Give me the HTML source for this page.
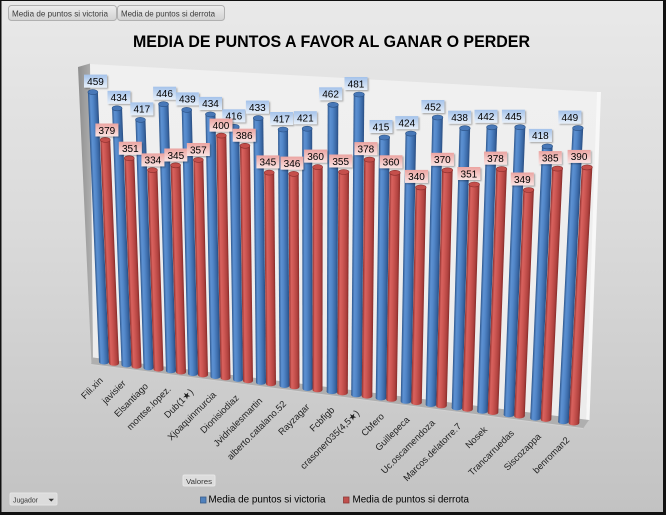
<!DOCTYPE html>
<html><head><meta charset="utf-8"><style>
html,body{margin:0;padding:0;background:#fff}
svg{display:block}
.cB{fill:#4878b8;stroke:#2b5286;stroke-width:.6}
.cR{fill:#c54f4b;stroke:#8c2f2d;stroke-width:.6}
.lb{fill:url(#lbB);filter:url(#sh)}
.lr{fill:url(#lbR);filter:url(#sh)}
.v{font-family:"Liberation Sans",sans-serif;font-size:10px;text-anchor:middle;fill:#000}
.c{font-family:"Liberation Sans","DejaVu Sans",sans-serif;font-size:9.3px;text-anchor:end;fill:#222}
.btn{font-family:"Liberation Sans",sans-serif;fill:#3a3a3a}
</style></head><body>
<svg width="666" height="515" viewBox="0 0 666 515" xmlns="http://www.w3.org/2000/svg">
<defs>
<linearGradient id="bg" x1="0" y1="0" x2="0" y2="1">
<stop offset="0" stop-color="#e9e9e9"/><stop offset="0.45" stop-color="#dadada"/><stop offset="1" stop-color="#c2c2c2"/>
</linearGradient>
<linearGradient id="wall" x1="0" y1="0" x2="0" y2="1">
<stop offset="0" stop-color="#f0f0f0"/><stop offset="1" stop-color="#ececec"/>
</linearGradient>
<linearGradient id="lw" x1="0" y1="0" x2="1" y2="0">
<stop offset="0" stop-color="#8e8e8e"/><stop offset="1" stop-color="#b2b2b2"/>
</linearGradient>
<linearGradient id="gB" x1="0" y1="0" x2="1" y2="0">
<stop offset="0" stop-color="#2d568c"/><stop offset="0.22" stop-color="#5d91d2"/><stop offset="0.45" stop-color="#5287c9"/><stop offset="0.8" stop-color="#3a68a5"/><stop offset="1" stop-color="#2a4e82"/>
</linearGradient>
<linearGradient id="gR" x1="0" y1="0" x2="1" y2="0">
<stop offset="0" stop-color="#8e302e"/><stop offset="0.22" stop-color="#d9625e"/><stop offset="0.45" stop-color="#cd5753"/><stop offset="0.8" stop-color="#b0423f"/><stop offset="1" stop-color="#862c2a"/>
</linearGradient>
<linearGradient id="lbB" x1="0" y1="0" x2="0" y2="1">
<stop offset="0" stop-color="#a4c2ea"/><stop offset="1" stop-color="#e8f0fa"/>
</linearGradient>
<linearGradient id="lbR" x1="0" y1="0" x2="0" y2="1">
<stop offset="0" stop-color="#eba4a1"/><stop offset="1" stop-color="#fae4e3"/>
</linearGradient>
<linearGradient id="bt" x1="0" y1="0" x2="0" y2="1">
<stop offset="0" stop-color="#eeeeee"/><stop offset="1" stop-color="#d2d2d2"/>
</linearGradient>
<filter id="sh" x="-20%" y="-20%" width="150%" height="160%">
<feDropShadow dx="1.2" dy="1.2" stdDeviation="0.8" flood-color="#000" flood-opacity="0.3"/>
</filter>
</defs>

<rect x="0" y="0" width="666" height="515" fill="url(#bg)"/>

<!-- top buttons -->
<rect x="8.5" y="5.5" width="108" height="15" rx="3" fill="url(#bt)" stroke="#b0b0b0"/>
<text class="btn" x="12" y="16.5" font-size="8.1" textLength="96" lengthAdjust="spacingAndGlyphs">Media de puntos si victoria</text>
<rect x="117.5" y="5.5" width="107" height="15" rx="3" fill="url(#bt)" stroke="#b0b0b0"/>
<text class="btn" x="121" y="16.5" font-size="8.1" textLength="94" lengthAdjust="spacingAndGlyphs">Media de puntos si derrota</text>

<!-- title -->
<text x="133" y="47" font-family="Liberation Sans, sans-serif" font-weight="bold" font-size="16.5" fill="#000" textLength="397" lengthAdjust="spacingAndGlyphs">MEDIA DE PUNTOS A FAVOR AL GANAR O PERDER</text>

<!-- walls & floor -->
<polygon points="90,64 598,92 586,420 93,360" fill="url(#wall)"/>
<polygon points="597,92 601,92 589.5,420 586,420" fill="#f8f8f8"/>
<polygon points="78,67 90,63.5 93,359 91.5,364" fill="url(#lw)"/>
<polygon points="93,357.5 589,420 583,428.5 91,364.5" fill="#afafaf"/>
<line x1="91" y1="364.5" x2="583" y2="428.5" stroke="#d2d2d2" stroke-width="1"/>

<!-- bars -->
<g transform="translate(104,362) skewX(2.359)"><rect x="-5" y="-269.9" width="10" height="269.9" fill="url(#gB)"/><ellipse rx="5" ry="2.5" fill="url(#gB)"/><ellipse cy="-269.9" rx="5" ry="2.5" class="cB"/></g>
<g transform="translate(114,363.3) skewX(2.247)"><rect x="-5" y="-223.4" width="10" height="223.4" fill="url(#gR)"/><ellipse rx="5" ry="2.5" fill="url(#gR)"/><ellipse cy="-223.4" rx="5" ry="2.5" class="cR"/></g>

<g transform="translate(126.5,364.9) skewX(2.106)"><rect x="-5" y="-256.6" width="10" height="256.6" fill="url(#gB)"/><ellipse rx="5" ry="2.5" fill="url(#gB)"/><ellipse cy="-256.6" rx="5" ry="2.5" class="cB"/></g>
<g transform="translate(136.5,366.2) skewX(1.994)"><rect x="-5" y="-208" width="10" height="208" fill="url(#gR)"/><ellipse rx="5" ry="2.5" fill="url(#gR)"/><ellipse cy="-208" rx="5" ry="2.5" class="cR"/></g>

<g transform="translate(148.5,367.8) skewX(1.859)"><rect x="-5" y="-247.9" width="10" height="247.9" fill="url(#gB)"/><ellipse rx="5" ry="2.5" fill="url(#gB)"/><ellipse cy="-247.9" rx="5" ry="2.5" class="cB"/></g>
<g transform="translate(158.5,369.1) skewX(1.747)"><rect x="-5" y="-199" width="10" height="199" fill="url(#gR)"/><ellipse rx="5" ry="2.5" fill="url(#gR)"/><ellipse cy="-199" rx="5" ry="2.5" class="cR"/></g>

<g transform="translate(171,370.7) skewX(1.606)"><rect x="-5" y="-266.5" width="10" height="266.5" fill="url(#gB)"/><ellipse rx="5" ry="2.5" fill="url(#gB)"/><ellipse cy="-266.5" rx="5" ry="2.5" class="cB"/></g>
<g transform="translate(181,372) skewX(1.494)"><rect x="-5" y="-206.7" width="10" height="206.7" fill="url(#gR)"/><ellipse rx="5" ry="2.5" fill="url(#gR)"/><ellipse cy="-206.7" rx="5" ry="2.5" class="cR"/></g>

<g transform="translate(193,373.6) skewX(1.359)"><rect x="-5" y="-263.7" width="10" height="263.7" fill="url(#gB)"/><ellipse rx="5" ry="2.5" fill="url(#gB)"/><ellipse cy="-263.7" rx="5" ry="2.5" class="cB"/></g>
<g transform="translate(203,374.9) skewX(1.247)"><rect x="-5" y="-215" width="10" height="215" fill="url(#gR)"/><ellipse rx="5" ry="2.5" fill="url(#gR)"/><ellipse cy="-215" rx="5" ry="2.5" class="cR"/></g>

<g transform="translate(215.5,376.5) skewX(1.107)"><rect x="-5" y="-262.1" width="10" height="262.1" fill="url(#gB)"/><ellipse rx="5" ry="2.5" fill="url(#gB)"/><ellipse cy="-262.1" rx="5" ry="2.5" class="cB"/></g>
<g transform="translate(225.5,377.8) skewX(0.995)"><rect x="-5" y="-242.2" width="10" height="242.2" fill="url(#gR)"/><ellipse rx="5" ry="2.5" fill="url(#gR)"/><ellipse cy="-242.2" rx="5" ry="2.5" class="cR"/></g>

<g transform="translate(238,379.4) skewX(0.854)"><rect x="-5" y="-252.6" width="10" height="252.6" fill="url(#gB)"/><ellipse rx="5" ry="2.5" fill="url(#gB)"/><ellipse cy="-252.6" rx="5" ry="2.5" class="cB"/></g>
<g transform="translate(248,380.7) skewX(0.742)"><rect x="-5" y="-234.9" width="10" height="234.9" fill="url(#gR)"/><ellipse rx="5" ry="2.5" fill="url(#gR)"/><ellipse cy="-234.9" rx="5" ry="2.5" class="cR"/></g>

<g transform="translate(261,382.4) skewX(0.595)"><rect x="-5" y="-264.3" width="10" height="264.3" fill="url(#gB)"/><ellipse rx="5" ry="2.5" fill="url(#gB)"/><ellipse cy="-264.3" rx="5" ry="2.5" class="cB"/></g>
<g transform="translate(271,383.7) skewX(0.483)"><rect x="-5" y="-211.1" width="10" height="211.1" fill="url(#gR)"/><ellipse rx="5" ry="2.5" fill="url(#gR)"/><ellipse cy="-211.1" rx="5" ry="2.5" class="cR"/></g>

<g transform="translate(284.5,385.5) skewX(0.331)"><rect x="-5" y="-256" width="10" height="256" fill="url(#gB)"/><ellipse rx="5" ry="2.5" fill="url(#gB)"/><ellipse cy="-256" rx="5" ry="2.5" class="cB"/></g>
<g transform="translate(294.5,386.8) skewX(0.219)"><rect x="-5" y="-212.9" width="10" height="212.9" fill="url(#gR)"/><ellipse rx="5" ry="2.5" fill="url(#gR)"/><ellipse cy="-212.9" rx="5" ry="2.5" class="cR"/></g>

<g transform="translate(307.5,388.5) skewX(0.073)"><rect x="-5" y="-259.8" width="10" height="259.8" fill="url(#gB)"/><ellipse rx="5" ry="2.5" fill="url(#gB)"/><ellipse cy="-259.8" rx="5" ry="2.5" class="cB"/></g>
<g transform="translate(317.5,389.8) skewX(-0.039)"><rect x="-5" y="-222.7" width="10" height="222.7" fill="url(#gR)"/><ellipse rx="5" ry="2.5" fill="url(#gR)"/><ellipse cy="-222.7" rx="5" ry="2.5" class="cR"/></g>

<g transform="translate(332,391.6) skewX(-0.202)"><rect x="-5.3" y="-286.8" width="10.6" height="286.8" fill="url(#gB)"/><ellipse rx="5.3" ry="2.5" fill="url(#gB)"/><ellipse cy="-286.8" rx="5.3" ry="2.5" class="cB"/></g>
<g transform="translate(342.5,392.9) skewX(-0.314)"><rect x="-5.3" y="-220.9" width="10.6" height="220.9" fill="url(#gR)"/><ellipse rx="5.3" ry="2.5" fill="url(#gR)"/><ellipse cy="-220.9" rx="5.3" ry="2.5" class="cR"/></g>

<g transform="translate(356.5,394.8) skewX(-0.477)"><rect x="-5.3" y="-300.3" width="10.6" height="300.3" fill="url(#gB)"/><ellipse rx="5.3" ry="2.5" fill="url(#gB)"/><ellipse cy="-300.3" rx="5.3" ry="2.5" class="cB"/></g>
<g transform="translate(367,396.1) skewX(-0.589)"><rect x="-5.3" y="-236.5" width="10.6" height="236.5" fill="url(#gR)"/><ellipse rx="5.3" ry="2.5" fill="url(#gR)"/><ellipse cy="-236.5" rx="5.3" ry="2.5" class="cR"/></g>

<g transform="translate(381,398) skewX(-0.753)"><rect x="-5.3" y="-260.5" width="10.6" height="260.5" fill="url(#gB)"/><ellipse rx="5.3" ry="2.5" fill="url(#gB)"/><ellipse cy="-260.5" rx="5.3" ry="2.5" class="cB"/></g>
<g transform="translate(391.5,399.3) skewX(-0.865)"><rect x="-5.3" y="-226.5" width="10.6" height="226.5" fill="url(#gR)"/><ellipse rx="5.3" ry="2.5" fill="url(#gR)"/><ellipse cy="-226.5" rx="5.3" ry="2.5" class="cR"/></g>

<g transform="translate(406,401.3) skewX(-1.034)"><rect x="-5.3" y="-267.7" width="10.6" height="267.7" fill="url(#gB)"/><ellipse rx="5.3" ry="2.5" fill="url(#gB)"/><ellipse cy="-267.7" rx="5.3" ry="2.5" class="cB"/></g>
<g transform="translate(416.5,402.6) skewX(-1.146)"><rect x="-5.3" y="-215.2" width="10.6" height="215.2" fill="url(#gR)"/><ellipse rx="5.3" ry="2.5" fill="url(#gR)"/><ellipse cy="-215.2" rx="5.3" ry="2.5" class="cR"/></g>

<g transform="translate(431,404.5) skewX(-1.314)"><rect x="-5.3" y="-287" width="10.6" height="287" fill="url(#gB)"/><ellipse rx="5.3" ry="2.5" fill="url(#gB)"/><ellipse cy="-287" rx="5.3" ry="2.5" class="cB"/></g>
<g transform="translate(441.5,405.8) skewX(-1.426)"><rect x="-5.3" y="-235.5" width="10.6" height="235.5" fill="url(#gR)"/><ellipse rx="5.3" ry="2.5" fill="url(#gR)"/><ellipse cy="-235.5" rx="5.3" ry="2.5" class="cR"/></g>

<g transform="translate(457,407.9) skewX(-1.606)"><rect x="-5.3" y="-279.7" width="10.6" height="279.7" fill="url(#gB)"/><ellipse rx="5.3" ry="2.5" fill="url(#gB)"/><ellipse cy="-279.7" rx="5.3" ry="2.5" class="cB"/></g>
<g transform="translate(467.5,409.2) skewX(-1.718)"><rect x="-5.3" y="-224.7" width="10.6" height="224.7" fill="url(#gR)"/><ellipse rx="5.3" ry="2.5" fill="url(#gR)"/><ellipse cy="-224.7" rx="5.3" ry="2.5" class="cR"/></g>

<g transform="translate(482.5,411.2) skewX(-1.893)"><rect x="-5.3" y="-283.9" width="10.6" height="283.9" fill="url(#gB)"/><ellipse rx="5.3" ry="2.5" fill="url(#gB)"/><ellipse cy="-283.9" rx="5.3" ry="2.5" class="cB"/></g>
<g transform="translate(493,412.5) skewX(-2.005)"><rect x="-5.3" y="-243.4" width="10.6" height="243.4" fill="url(#gR)"/><ellipse rx="5.3" ry="2.5" fill="url(#gR)"/><ellipse cy="-243.4" rx="5.3" ry="2.5" class="cR"/></g>

<g transform="translate(509,414.7) skewX(-2.191)"><rect x="-5.3" y="-287.5" width="10.6" height="287.5" fill="url(#gB)"/><ellipse rx="5.3" ry="2.5" fill="url(#gB)"/><ellipse cy="-287.5" rx="5.3" ry="2.5" class="cB"/></g>
<g transform="translate(519.5,416) skewX(-2.303)"><rect x="-5.3" y="-226" width="10.6" height="226" fill="url(#gR)"/><ellipse rx="5.3" ry="2.5" fill="url(#gR)"/><ellipse cy="-226" rx="5.3" ry="2.5" class="cR"/></g>

<g transform="translate(535.5,418.1) skewX(-2.488)"><rect x="-5.3" y="-271.7" width="10.6" height="271.7" fill="url(#gB)"/><ellipse rx="5.3" ry="2.5" fill="url(#gB)"/><ellipse cy="-271.7" rx="5.3" ry="2.5" class="cB"/></g>
<g transform="translate(546,419.4) skewX(-2.6)"><rect x="-5.3" y="-250.8" width="10.6" height="250.8" fill="url(#gR)"/><ellipse rx="5.3" ry="2.5" fill="url(#gR)"/><ellipse cy="-250.8" rx="5.3" ry="2.5" class="cR"/></g>

<g transform="translate(563.5,421.7) skewX(-2.803)"><rect x="-5.3" y="-293.6" width="10.6" height="293.6" fill="url(#gB)"/><ellipse rx="5.3" ry="2.5" fill="url(#gB)"/><ellipse cy="-293.6" rx="5.3" ry="2.5" class="cB"/></g>
<g transform="translate(574,423) skewX(-2.915)"><rect x="-5.3" y="-255.6" width="10.6" height="255.6" fill="url(#gR)"/><ellipse rx="5.3" ry="2.5" fill="url(#gR)"/><ellipse cy="-255.6" rx="5.3" ry="2.5" class="cR"/></g>

<!-- blue value labels -->
<rect class="lb" x="84" y="74.6" width="23" height="13"/><text class="v" x="95.5" y="84.9">459</text>
<rect class="lb" x="107.5" y="90.8" width="23" height="13"/><text class="v" x="119" y="101.1">434</text>
<rect class="lb" x="130.3" y="102.4" width="23" height="13"/><text class="v" x="141.8" y="112.7">417</text>
<rect class="lb" x="153.1" y="86.7" width="23" height="13"/><text class="v" x="164.6" y="97">446</text>
<rect class="lb" x="175.8" y="92.4" width="23" height="13"/><text class="v" x="187.3" y="102.7">439</text>
<rect class="lb" x="199" y="96.9" width="23" height="13"/><text class="v" x="210.5" y="107.2">434</text>
<rect class="lb" x="222.3" y="109.3" width="23" height="13"/><text class="v" x="233.8" y="119.6">416</text>
<rect class="lb" x="245.9" y="100.6" width="23" height="13"/><text class="v" x="257.4" y="110.9">433</text>
<rect class="lb" x="270.1" y="112" width="23" height="13"/><text class="v" x="281.6" y="122.3">417</text>
<rect class="lb" x="293.8" y="111.2" width="23" height="13"/><text class="v" x="305.3" y="121.5">421</text>
<rect class="lb" x="319.1" y="87.3" width="23" height="13"/><text class="v" x="330.6" y="97.6">462</text>
<rect class="lb" x="344.5" y="77" width="23" height="13"/><text class="v" x="356" y="87.3">481</text>
<rect class="lb" x="369.5" y="120" width="23" height="13"/><text class="v" x="381" y="130.3">415</text>
<rect class="lb" x="395.3" y="116.1" width="23" height="13"/><text class="v" x="406.8" y="126.4">424</text>
<rect class="lb" x="421.4" y="100" width="23" height="13"/><text class="v" x="432.9" y="110.3">452</text>
<rect class="lb" x="448.1" y="110.7" width="23" height="13"/><text class="v" x="459.6" y="121">438</text>
<rect class="lb" x="474.5" y="109.8" width="23" height="13"/><text class="v" x="486" y="120.1">442</text>
<rect class="lb" x="501.9" y="109.7" width="23" height="13"/><text class="v" x="513.4" y="120">445</text>
<rect class="lb" x="528.9" y="128.9" width="23" height="13"/><text class="v" x="540.4" y="139.2">418</text>
<rect class="lb" x="558.4" y="110.6" width="23" height="13"/><text class="v" x="569.9" y="120.9">449</text>

<!-- red value labels -->
<rect class="lr" x="95.4" y="123.5" width="23" height="13"/><text class="v" x="106.9" y="133.8">379</text>
<rect class="lr" x="118.8" y="141.7" width="23" height="13"/><text class="v" x="130.3" y="152">351</text>
<rect class="lr" x="141.4" y="153.4" width="23" height="13"/><text class="v" x="152.9" y="163.7">334</text>
<rect class="lr" x="164.3" y="148.5" width="23" height="13"/><text class="v" x="175.8" y="158.8">345</text>
<rect class="lr" x="186.8" y="143" width="23" height="13"/><text class="v" x="198.3" y="153.3">357</text>
<rect class="lr" x="209.5" y="118.6" width="23" height="13"/><text class="v" x="221" y="128.9">400</text>
<rect class="lr" x="232.7" y="128.7" width="23" height="13"/><text class="v" x="244.2" y="139">386</text>
<rect class="lr" x="256.4" y="155.4" width="23" height="13"/><text class="v" x="267.9" y="165.7">345</text>
<rect class="lr" x="280.5" y="156.6" width="23" height="13"/><text class="v" x="292" y="166.9">346</text>
<rect class="lr" x="304.1" y="149.6" width="23" height="13"/><text class="v" x="315.6" y="159.9">360</text>
<rect class="lr" x="329.2" y="154.5" width="23" height="13"/><text class="v" x="340.7" y="164.8">355</text>
<rect class="lr" x="354.4" y="142.1" width="23" height="13"/><text class="v" x="365.9" y="152.4">378</text>
<rect class="lr" x="379.5" y="155.3" width="23" height="13"/><text class="v" x="391" y="165.6">360</text>
<rect class="lr" x="405" y="169.9" width="23" height="13"/><text class="v" x="416.5" y="180.2">340</text>
<rect class="lr" x="430.9" y="152.8" width="23" height="13"/><text class="v" x="442.4" y="163.1">370</text>
<rect class="lr" x="457.4" y="167" width="23" height="13"/><text class="v" x="468.9" y="177.3">351</text>
<rect class="lr" x="484" y="151.6" width="23" height="13"/><text class="v" x="495.5" y="161.9">378</text>
<rect class="lr" x="510.8" y="172.5" width="23" height="13"/><text class="v" x="522.3" y="182.8">349</text>
<rect class="lr" x="538.7" y="151.1" width="23" height="13"/><text class="v" x="550.2" y="161.4">385</text>
<rect class="lr" x="567.6" y="149.9" width="23" height="13"/><text class="v" x="579.1" y="160.2">390</text>

<!-- category labels -->
<text class="c" transform="translate(103.5,381) rotate(-45)">Fili.xin</text>
<text class="c" transform="translate(126.3,383.9) rotate(-45)">javisier</text>
<text class="c" transform="translate(148.7,386.8) rotate(-45)">Elsantiago</text>
<text class="c" transform="translate(171.5,389.7) rotate(-45)">montse.lopez.</text>
<text class="c" transform="translate(193.9,392.6) rotate(-45)">Dub(1★)</text>
<text class="c" transform="translate(216.7,395.5) rotate(-45)">Xjoaquinmurcia</text>
<text class="c" transform="translate(239.5,398.4) rotate(-45)">Dionisiodiaz</text>
<text class="c" transform="translate(262.9,401.4) rotate(-45)">Jvidrialesmartin</text>
<text class="c" transform="translate(286.8,404.5) rotate(-45)">alberto.catalano.52</text>
<text class="c" transform="translate(310.1,407.5) rotate(-45)">Rayzagar</text>
<text class="c" transform="translate(335,410.6) rotate(-45)">Fcbfigb</text>
<text class="c" transform="translate(359.9,413.8) rotate(-45)">crasoner035(4,5★)</text>
<text class="c" transform="translate(384.7,417) rotate(-45)">Cbfero</text>
<text class="c" transform="translate(410.1,420.3) rotate(-45)">Guillepeca</text>
<text class="c" transform="translate(435.5,423.5) rotate(-45)">Uc.oscamendoza</text>
<text class="c" transform="translate(461.9,426.9) rotate(-45)">Marcos.delatorre.7</text>
<text class="c" transform="translate(487.8,430.2) rotate(-45)">Nosek</text>
<text class="c" transform="translate(514.7,433.7) rotate(-45)">Trancarruedas</text>
<text class="c" transform="translate(541.6,437.1) rotate(-45)">Siscozappa</text>
<text class="c" transform="translate(570,440.7) rotate(-45)">benroman2</text>

<!-- Valores / Jugador buttons -->
<rect x="183" y="475" width="32" height="11" rx="1.5" fill="#dddddd" stroke="#e6e6e6" stroke-width="1"/>
<text class="btn" x="186" y="484" font-size="7.6" textLength="26" lengthAdjust="spacingAndGlyphs">Valores</text>
<rect x="10" y="493" width="47" height="12" rx="1.5" fill="#dcdcdc" stroke="#e4e4e4" stroke-width="1"/>
<text class="btn" x="13" y="502.5" font-size="7.6" textLength="25" lengthAdjust="spacingAndGlyphs">Jugador</text>
<polygon points="48.5,498.8 54,498.8 51.25,501.6" fill="#333"/>

<!-- legend -->
<rect x="200.5" y="497" width="5.5" height="6" fill="#4f81bd" stroke="#385d8a" stroke-width="0.8"/>
<text x="208.5" y="502.5" font-family="Liberation Sans, sans-serif" font-size="10.5" fill="#000" textLength="117" lengthAdjust="spacingAndGlyphs">Media de puntos si victoria</text>
<rect x="343.5" y="497" width="5.5" height="6" fill="#c0504d" stroke="#8c3836" stroke-width="0.8"/>
<text x="352.5" y="502.5" font-family="Liberation Sans, sans-serif" font-size="10.5" fill="#000" textLength="116.5" lengthAdjust="spacingAndGlyphs">Media de puntos si derrota</text>

<!-- border -->
<rect x="0" y="0" width="666" height="1" fill="#111"/>
<rect x="0" y="0" width="1.5" height="515" fill="#111"/>
<rect x="663" y="0" width="3" height="515" fill="#111"/>
<rect x="0" y="512" width="666" height="3" fill="#111"/>
</svg>
</body></html>
